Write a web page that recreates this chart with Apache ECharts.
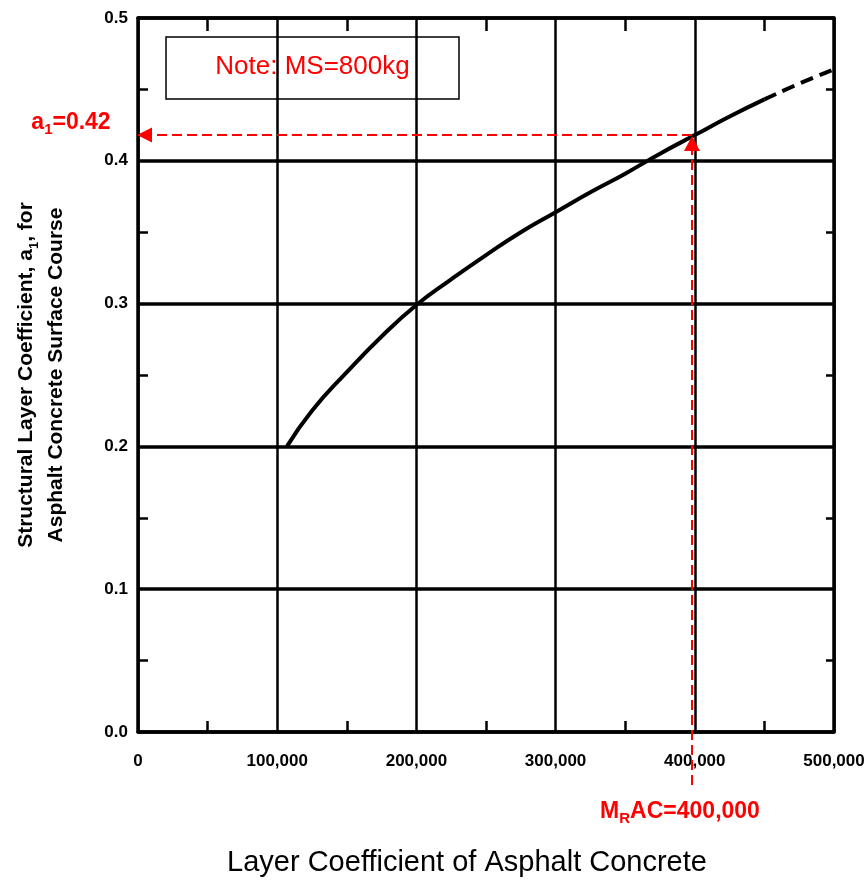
<!DOCTYPE html>
<html><head><meta charset="utf-8">
<script src="https://cdn.jsdelivr.net/npm/echarts@6/dist/echarts.min.js"></script>
<style>html,body{margin:0;padding:0;background:#fff}#c{width:865px;height:883px}</style>
</head><body><div id="c"></div>
<script>
// ---- data ----
const xTickValues = [0, 100000, 200000, 300000, 400000, 500000];
const xTickLabels = ['0', '100,000', '200,000', '300,000', '400,000', '500,000'];
const yTickValues = [0, 0.1, 0.2, 0.3, 0.4, 0.5];
const yTickLabels = ['0.0', '0.1', '0.2', '0.3', '0.4', '0.5'];
const curveSolidX = [107000, 125000, 150000, 175000, 200000, 225000, 250000, 275000, 300000, 325000, 350000, 375000, 400000, 425000, 450000];
const curveSolidY = [0.200, 0.225, 0.252, 0.277, 0.299, 0.317, 0.334, 0.350, 0.364, 0.378, 0.391, 0.405, 0.418, 0.431, 0.443];
const curveDashedX = [450000, 475000, 500000];
const curveDashedY = [0.443, 0.454, 0.464];
const designModulus = 398000;
const designCoef = 0.418;
const noteText = 'Note: MS=800kg';
const titleText = 'Layer Coefficient of Asphalt Concrete';
const yNameLine1 = 'Structural Layer Coefficient, a{s|1}, for';
const yNameLine2 = 'Asphalt Concrete Surface Course';

const FONT_NARROW = '"Liberation Sans Narrow", "Liberation Sans", Arial, sans-serif';
const FONT = '"Liberation Sans", Arial, sans-serif';
const RED = '#ff0000';

function lookup(vals, labels, v) {
  for (let i = 0; i < vals.length; i++) if (Math.abs(vals[i] - v) < 1e-9 * Math.max(1, Math.abs(v))) return labels[i];
  return '';
}
function zip(a, b) { return a.map((v, i) => [v, b[i]]); }

const chart = echarts.init(document.getElementById('c'), null, {renderer: 'canvas'});

const baseAxisLine = {show: true, onZero: false, lineStyle: {color: '#000', width: 3.5}};

chart.setOption({
  animation: false,
  backgroundColor: '#fff',
  grid: {left: 138, right: 31, top: 18, bottom: 151, containLabel: false, outerBoundsMode: 'none'},
  xAxis: [{
    type: 'value', position: 'bottom', min: 0, max: 500000, interval: 100000,
    axisLine: baseAxisLine,
    axisTick: {show: false, inside: true, length: 11},
    minorTick: {show: true, splitNumber: 2, length: 11, lineStyle: {color: '#000', width: 2.5}},
    minorSplitLine: {show: false},
    splitLine: {show: true, lineStyle: {color: '#000', width: 2.5}},
    axisLabel: {
      show: true, margin: 21, color: '#000', fontFamily: FONT_NARROW, fontSize: 17, fontWeight: 'bold',
      showMinLabel: true, showMaxLabel: true, hideOverlap: false,
      formatter: v => lookup(xTickValues, xTickLabels, v)
    }
  }, {
    type: 'value', position: 'top', min: 0, max: 500000, interval: 100000,
    axisLine: baseAxisLine,
    axisTick: {show: false, inside: true, length: 13},
    minorTick: {show: true, splitNumber: 2, length: 13, lineStyle: {color: '#000', width: 2.5}},
    splitLine: {show: false},
    axisLabel: {show: false}
  }],
  yAxis: [{
    type: 'value', position: 'left', min: 0, max: 0.5, interval: 0.1,
    axisLine: baseAxisLine,
    axisTick: {show: false, inside: true, length: 10},
    minorTick: {show: true, splitNumber: 2, length: 10, lineStyle: {color: '#000', width: 2.5}},
    splitLine: {show: true, lineStyle: {color: '#000', width: 3.5}},
    axisLabel: {
      show: true, margin: 10, color: '#000', fontFamily: FONT_NARROW, fontSize: 17, fontWeight: 'bold',
      showMinLabel: true, showMaxLabel: true, hideOverlap: false,
      formatter: v => lookup(yTickValues, yTickLabels, v)
    },
    name: yNameLine1 + '\n' + yNameLine2,
    nameLocation: 'middle', nameRotate: 90, nameGap: 67,
    nameTextStyle: {
      color: '#000', fontFamily: FONT, fontWeight: 'bold', fontSize: 21, lineHeight: 30,
      rich: {s: {fontSize: 13, fontWeight: 'bold', fontFamily: FONT, color: '#000', verticalAlign: 'bottom', lineHeight: 13}}
    }
  }, {
    type: 'value', position: 'right', min: 0, max: 0.5, interval: 0.1,
    axisLine: baseAxisLine,
    axisTick: {show: false, inside: true, length: 8},
    minorTick: {show: true, splitNumber: 2, length: 8, lineStyle: {color: '#000', width: 2.5}},
    splitLine: {show: false},
    axisLabel: {show: false}
  }],
  series: [{
    type: 'line', xAxisIndex: 0, yAxisIndex: 0, data: zip(curveSolidX, curveSolidY),
    smooth: true, showSymbol: false, symbol: 'none', silent: true,
    lineStyle: {color: '#000', width: 4}
  }, {
    type: 'line', xAxisIndex: 0, yAxisIndex: 0, data: zip(curveDashedX, curveDashedY),
    smooth: true, showSymbol: false, symbol: 'none', silent: true,
    lineStyle: {color: '#000', width: 4, type: [13, 7]}
  }]
});

// ---- annotations built from the data via the axes ----
const pD = chart.convertToPixel({xAxisIndex: 0, yAxisIndex: 0}, [designModulus, designCoef]);
const p0 = chart.convertToPixel({xAxisIndex: 0, yAxisIndex: 0}, [0, designCoef]);
const pB = chart.convertToPixel({xAxisIndex: 0, yAxisIndex: 0}, [designModulus, 0]);

const redRich = {
  m: {fontSize: 23, fontWeight: 'bold', fontFamily: FONT, fill: RED, lineHeight: 28},
  s: {fontSize: 15, fontWeight: 'bold', fontFamily: FONT, fill: RED, lineHeight: 15, verticalAlign: 'bottom'}
};

chart.setOption({
  graphic: [
    {type: 'rect', shape: {x: 166, y: 37, width: 293, height: 62},
     style: {fill: null, stroke: '#000', lineWidth: 1.5}, z: 10},
    {type: 'text', x: 312.5, y: 67, z: 11,
     style: {text: noteText, fill: RED, fontFamily: FONT, fontSize: 26, align: 'center', verticalAlign: 'middle'}},
    // horizontal dashed arrow to the y axis
    {type: 'line', z: 10, shape: {x1: pD[0], y1: p0[1], x2: p0[0] + 13, y2: p0[1]},
     style: {stroke: RED, lineWidth: 2, lineDash: [10, 5]}},
    {type: 'polygon', z: 10, shape: {points: [[p0[0] - 1, p0[1]], [p0[0] + 14, p0[1] - 7.5], [p0[0] + 14, p0[1] + 7.5]]},
     style: {fill: RED}},
    // vertical dashed arrow from below the x axis
    {type: 'line', z: 10, shape: {x1: pD[0], y1: pB[1] + 53, x2: pD[0], y2: pD[1] + 14},
     style: {stroke: RED, lineWidth: 2, lineDash: [10, 5]}},
    {type: 'polygon', z: 10, shape: {points: [[pD[0], pD[1] + 1], [pD[0] - 8, pD[1] + 16], [pD[0] + 8, pD[1] + 16]]},
     style: {fill: RED}},
    {type: 'text', x: 71, y: p0[1] - 12, z: 11,
     style: {text: '{m|a}{s|1}{m|=0.42}', align: 'center', verticalAlign: 'middle', rich: redRich}},
    {type: 'text', x: pD[0] - 12, y: pB[1] + 80, z: 11,
     style: {text: '{m|M}{s|R}{m|AC=400,000}', align: 'center', verticalAlign: 'middle', rich: redRich}},
    {type: 'text', x: 467, y: 863, z: 11,
     style: {text: titleText, fill: '#000', fontFamily: FONT, fontSize: 29, align: 'center', verticalAlign: 'middle'}}
  ]
});
</script></body></html>
